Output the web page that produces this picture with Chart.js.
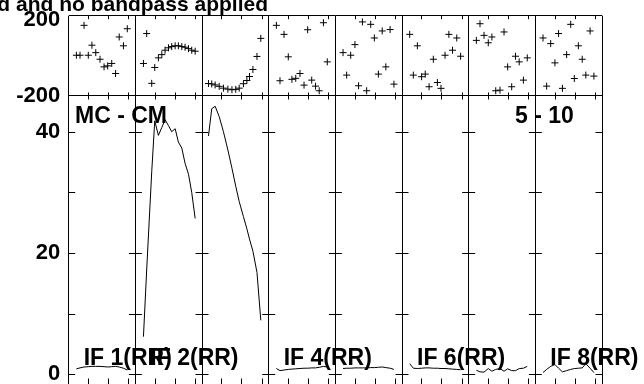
<!DOCTYPE html>
<html lang="en">
<head>
<meta charset="UTF-8">
<title>MC - CM 5 - 10</title>
<script src="https://cdn.jsdelivr.net/npm/chart.js"></script>
<style>
    html, body { margin: 0; padding: 0; background: #fff; overflow: hidden; }
    #wrap { position: relative; width: 644px; height: 390px; }
</style>
</head>
<body>
<div id="wrap"><canvas id="bp-chart"></canvas></div>
<script>
    // one panel per IF, channels along x
    const ifLabels = ['IF 1(RR)', 'IF 2(RR)', '', 'IF 4(RR)', '', 'IF 6(RR)', '', 'IF 8(RR)'];
    const chanStd = [4.3, 6.1, 8.1, 10.2, 12.0, 13.9, 16.0, 18.0, 19.8, 21.8, 23.7, 25.5, 27.6, 29.5];
    const chanIF2 = [4.5, 6.1, 8.6, 10.1, 11.9, 13.6, 15.2, 16.9, 18.5, 20.2, 21.8, 23.5, 25.1, 26.8, 28.4, 30.1];
    const chanIF3 = [3.7, 5.3, 7.0, 9.0, 11.1, 13.3, 15.3, 17.2, 18.9, 21.0, 22.7, 24.0, 25.7, 27.7, 29.6];
    const chanTicks = [10, 20, 30];

    // phase (deg)
    const phIF1 = [3, 3, 152, 3, 53, 16, -17, -55, -50, -38, -88, 94, 50, 135];
    const phIF2 = [-38, 111, -137, -58, -10, 6, 28, 40, 46, 50, 50, 46, 43, 36, 28, 23];
    const phIF3 = [-138, -140, -145, -152, -161, -166, -169, -167, -161, -139, -123, -103, -68, -3, 87];
    const phIF4 = [152, -124, 107, -5, -117, -112, -88, -146, 130, -121, -151, -174, 165, -30];
    const phIF5 = [16, -96, 3, 56, -149, 169, -174, 157, 89, -91, 124, -55, 131, -141];
    const phIF6 = [107, -96, 50, -104, -91, -154, -17, -133, -162, 3, 107, 28, 89, -2];
    const phIF7 = [77, 160, 102, 65, 94, -174, -171, 119, -55, -154, -2, -30, -121, -10];
    const phIF8 = [89, -151, 61, -35, 111, -162, 6, 157, -113, 50, -17, -96, 124, -101];

    // amplitude
    const amIF1 = [0.9, 1.05, 1.2, 1.25, 1.3, 1.3, 1.3, 1.25, 1.2, 1.25, 1.3, 1.2, 1.0, 0.7];
    const amIF2 = [6.2, 17.2, 33.4, 41.8, 39.4, 40.7, 42, 41, 40, 40.5, 38.3, 37.3, 34.8, 33, 30, 25.7];
    const amIF3 = [39.3, 43.8, 44.2, 42.5, 40, 37, 34, 31, 28.5, 26, 24, 22.3, 20.3, 16.8, 8.9];
    const amIF4 = [0.95, 0.6, 0.7, 0.8, 0.85, 0.9, 0.95, 1.0, 1.0, 1.05, 1.05, 1.15, 1.3, 1.2];
    const amIF5 = [0.95, 1.0, 1.0, 1.05, 1.05, 1.05, 1.05, 1.1, 1.1, 1.15, 1.2, 1.1, 1.0, 0.8];
    const amIF6 = [1.75, 1.0, 0.95, 1.0, 1.05, 1.05, 1.0, 1.0, 0.95, 0.95, 0.9, 0.85, 0.8, 0.75];
    const amIF7 = [0.66, 0.4, 0.35, 0.94, 0.5, 0.8, 0.94, 0.5, 0.9, 0.6, 0.6, 0.94, 1.0, 1.3];
    const amIF8 = [0.28, 0.8, 1.3, 1.6, 1.0, 0.4, 0.6, 0.8, 0.94, 1.0, 1.05, 1.75, 1.0, 0.28];

    const phaseTicks = [-200, 0, 200];
    const ampTicks = [0, 10, 20, 30, 40];

    const chanSets = [chanStd, chanIF2, chanIF3, chanStd, chanStd, chanStd, chanStd, chanStd];
    const phaseSets = [phIF1, phIF2, phIF3, phIF4, phIF5, phIF6, phIF7, phIF8];
    const ampSets = [amIF1, amIF2, amIF3, amIF4, amIF5, amIF6, amIF7, amIF8];

    const PW = 33;      // channel units per panel
    const NIF = 8;
    const borders = Array.from({length: NIF + 1}, (_, i) => i * PW + 0.5);
    const FONT = "'Liberation Sans', Arial, sans-serif";

    let datasets = [];
    for (let p = 0; p < NIF; p++) {
        const ch = chanSets[p];
        datasets.push({
            type: 'scatter',
            data: phaseSets[p].map((v, i) => ({x: p * PW + ch[i], y: v})),
            yAxisID: 'yP',
            pointStyle: 'cross',
            pointRadius: 3.5,
            borderColor: '#000',
            borderWidth: 1,
            showLine: false
        });
        datasets.push({
            type: 'line',
            data: ampSets[p].map((v, i) => ({x: p * PW + ch[i], y: v})),
            yAxisID: 'yA',
            borderColor: '#000',
            borderWidth: 1,
            pointRadius: 0,
            tension: 0,
            fill: false
        });
    }

    function hline(ctx, x1, x2, y) {
        ctx.beginPath(); ctx.moveTo(x1, y); ctx.lineTo(x2, y); ctx.stroke();
    }
    function vline(ctx, x, y1, y2) {
        ctx.beginPath(); ctx.moveTo(x, y1); ctx.lineTo(x, y2); ctx.stroke();
    }

    // fixed axis width, and no extra room for the end labels
    function fixAxis(s) {
        s.width = 68.7;
        s.paddingTop = 0;
        s.paddingBottom = 0;
    }

    // tick marks inside every panel + the text labels
    const decor = {
        id: 'decor',
        afterDatasetsDraw(chart) {
            const ctx = chart.ctx;
            const xs = chart.scales.x, yP = chart.scales.yP, yA = chart.scales.yA;
            ctx.save();
            ctx.strokeStyle = '#000';
            ctx.lineWidth = 1;
            borders.forEach((b, i) => {
                const px = xs.getPixelForValue(b);
                ampTicks.forEach(v => {
                    const py = Math.round(yA.getPixelForValue(v)) + 0.5;
                    if (i > 0) hline(ctx, px - 6.5, px, py);
                    if (i < NIF) hline(ctx, px, px + 6.5, py);
                });
            });
            for (let p = 0; p < NIF; p++) {
                chanTicks.forEach(c => {
                    const px = Math.round(xs.getPixelForValue(p * PW + c)) + 0.5;
                    vline(ctx, px, yP.top, yP.top + 3.5);
                    vline(ctx, px, yP.bottom - 3.5, yP.bottom + 3.5);
                    vline(ctx, px, yA.bottom - 6.5, yA.bottom);
                });
            }
            ctx.fillStyle = '#000';
            ctx.textBaseline = 'alphabetic';
            ctx.font = 'bold 23px ' + FONT;
            ctx.textAlign = 'left';
            ifLabels.forEach((t, p) => {
                if (!t) return;
                ctx.fillText(t, xs.getPixelForValue(borders[p]) + 15, 365);
            });
            ctx.fillText('MC - CM', 75, 123);
            ctx.fillText('5 - 10', 515, 123);
            ctx.font = 'bold 21px ' + FONT;
            ctx.textAlign = 'right';
            ctx.fillText('d and no bandpass applied', 268, 11);
            ctx.restore();
        }
    };

    const tickFont = {family: FONT, size: 22, weight: 'bold'};
    // the top phase label sits a little below its tick
    const topFont = {family: FONT, size: 22, weight: 'bold', lineHeight: 0.41};

    let ctx = document.getElementById('bp-chart').getContext('2d');
    let chart = new Chart(ctx, {
        data: {datasets: datasets},
        plugins: [decor],
        options: {
            responsive: true,
            maintainAspectRatio: false,
            animation: false,
            events: [],
            layout: {padding: {top: 15.7, right: 42, bottom: 3.5, left: 0}},
            plugins: {legend: {display: false}, tooltip: {enabled: false}},
            scales: {
                x: {
                    type: 'linear',
                    min: borders[0],
                    max: borders[NIF],
                    afterBuildTicks: s => { s.ticks = borders.map(v => ({value: v})); },
                    grid: {color: '#000', lineWidth: 1, drawTicks: false},
                    border: {display: false},
                    ticks: {display: false}
                },
                // stacked axes are laid out bottom-up: amplitude first
                yA: {
                    type: 'linear',
                    position: 'left',
                    stack: 'bp',
                    stackWeight: 290.2,
                    min: -1.77,
                    max: 45.9,
                    afterBuildTicks: s => { s.ticks = ampTicks.map(v => ({value: v})); },
                    afterFit: fixAxis,
                    grid: {display: false, drawTicks: false},
                    border: {display: false},
                    ticks: {
                        padding: 8.5,
                        color: '#000',
                        font: tickFont,
                        callback: v => (v % 20 === 0) ? String(v) : ''
                    }
                },
                yP: {
                    type: 'linear',
                    position: 'left',
                    stack: 'bp',
                    stackWeight: 80.6,
                    min: -200,
                    max: 200,
                    afterBuildTicks: s => { s.ticks = phaseTicks.map(v => ({value: v})); },
                    afterFit: fixAxis,
                    grid: {color: '#000', lineWidth: 1, drawTicks: false},
                    border: {display: false},
                    ticks: {
                        padding: 8.5,
                        color: '#000',
                        font: c => (c.tick && c.tick.value === 200) ? topFont : tickFont,
                        callback: v => v === 0 ? '' : (v === 200 ? ['', '200'] : String(v))
                    }
                }
            }
        }
    });
</script>
</body>
</html>
